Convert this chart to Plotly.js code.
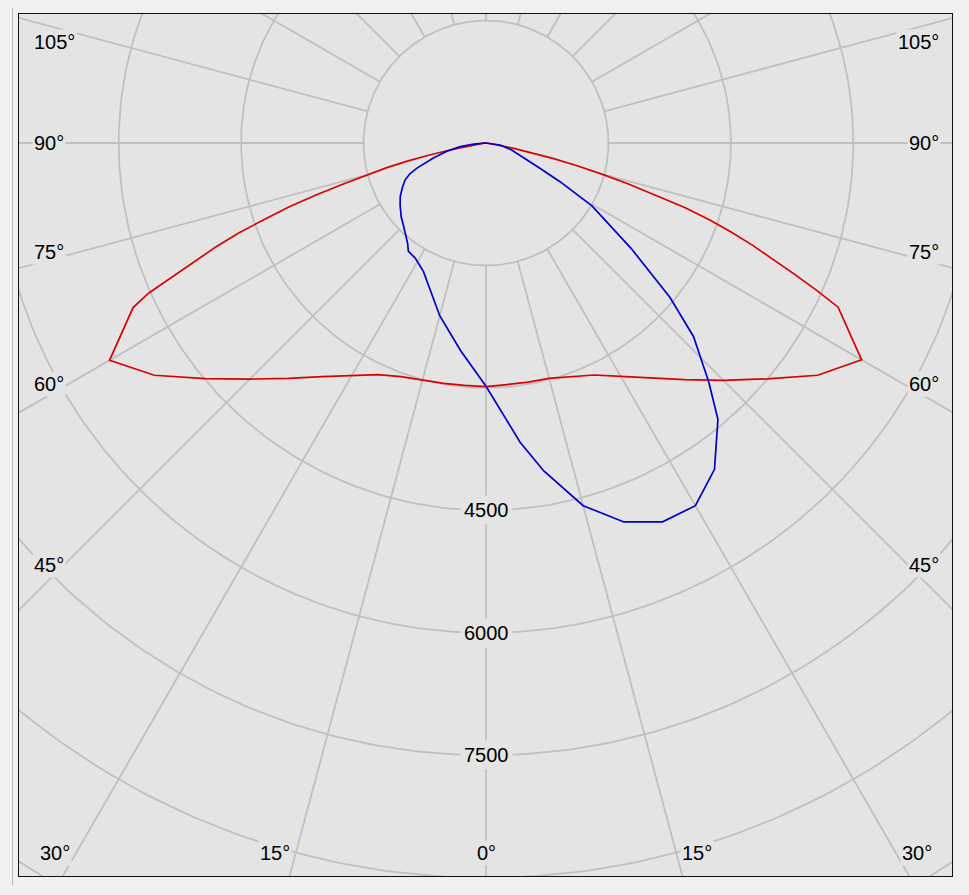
<!DOCTYPE html>
<html>
<head>
<meta charset="utf-8">
<script src="https://cdn.plot.ly/plotly-3.0.1.min.js"></script>
<style>
html,body{margin:0;padding:0;background:#f0f0f0;overflow:hidden;}
#chart{width:969px;height:895px;}
</style>
</head>
<body>
<div id="chart"></div>
<script>
// ---- DATA (luminous intensity, cd, vs gamma angle in degrees) ----
const redAngles = [-90,-85,-80,-79,-78,-77,-76,-75,-74,-73,-72,-71,-70,-69,-68,-67,-66,-65,-60,-55,-50,-45,-40,-35,-30,-25,-20,-15,-10,-5,0,
                   5,10,15,20,25,30,35,40,45,50,55,60,65,66,67,68,69,70,71,72,73,74,75,76,77,78,79,80,85,90];
const redValues = [0,30,150,448,720,1000,1260,1513,1810,2170,2540,2860,3230,3535,3810,4170,4525,4770,5325,4960,4490,4090,3765,3495,3290,3130,3045,3005,2990,2980,2985,
                   2970,2975,2986,3044,3136,3300,3513,3785,4113,4495,4960,5313,4759,4430,4089,3790,3500,3200,2900,2560,2150,1800,1460,1140,840,560,360,150,30,0];
const blueAngles = [-90,-85,-82,-78,-74,-70,-68,-65.5,-62,-58,-54,-49,-45,-42,-38,-35.6,-31.6,-26,-20,-15,-7,0,
                    6.5,10,15,20,25,30,35,40,43,47,50,54,59.3,62.4,64.9,70.5,75,82,90];
const blueValues = [0,150,320,490,670,900,1005,1088,1160,1239,1300,1377,1430,1482,1560,1633,1655,1750,1960,2190,2560,2980,
                    3690,4080,4600,4940,5120,5130,4880,4420,4000,3475,2940,2200,1510,1023,729,441,320,173,0];
const ringValues = [1500,3000,4500,6000,7500,9000,10500,12000];
const ringLabelValues = [4500,6000,7500];
const spokeAngles = [-180,-165,-150,-135,-120,-105,-90,-75,-60,-45,-30,-15,0,15,30,45,60,75,90,105,120,135,150,165,180];
const sideAngleLabels = [105,90,75,60,45];
const bottomAngleLabels = [-30,-15,0,15,30];

// ---- geometry of the drawing ----
const W = 969, H = 895;
const M = {l:19, r:17, t:14, b:19};
const plotW = W - M.l - M.r, plotH = H - M.t - M.b;
const cx = 486 - M.l, cy = 143 - M.t;     // centre inside plot area (px)
const s = 12.25;                            // cd per pixel
const xr = [-cx*s, (plotW-cx)*s];
const yr = [-(plotH-cy)*s, cy*s];
const rad = d => d*Math.PI/180;
const px = (g,I) => I*Math.sin(rad(g));
const py = (g,I) => -I*Math.cos(rad(g));

// grid rings
const rx=[], ry=[];
ringValues.forEach(v=>{
  for(let a=0;a<=360;a+=1){ rx.push(px(a,v)); ry.push(py(a,v)); }
  rx.push(null); ry.push(null);
});
// spokes (outside the first ring)
const sx=[], sy=[];
spokeAngles.forEach(a=>{
  sx.push(px(a,ringValues[0]), px(a,30000), null);
  sy.push(py(a,ringValues[0]), py(a,30000), null);
});

const gridStyle = {color:'#c0c0c0', width:1.8};
const traces = [
  {x:rx, y:ry, mode:'lines', line:gridStyle, hoverinfo:'skip'},
  {x:sx, y:sy, mode:'lines', line:gridStyle, hoverinfo:'skip'},
  {x:redAngles.map((g,i)=>px(g,redValues[i])), y:redAngles.map((g,i)=>py(g,redValues[i])),
   mode:'lines', line:{color:'#dc0000', width:1.7}, name:'C0-C180'},
  {x:blueAngles.map((g,i)=>px(g,blueValues[i])), y:blueAngles.map((g,i)=>py(g,blueValues[i])),
   mode:'lines', line:{color:'#0000cc', width:1.7}, name:'C90-C270'}
];

const font = {family:'"Liberation Sans", Arial, sans-serif', size:20, color:'#000'};
const bg = '#e4e4e4';
const ann = [];
ringLabelValues.forEach(v=>{
  ann.push({x:0, y:-v, text:String(v), showarrow:false, font:font, bgcolor:bg, borderpad:3,
            xanchor:'center', yanchor:'middle'});
});
// side angle labels
const sideOff = 436*s;
sideAngleLabels.forEach(a=>{
  const yv = -sideOff/Math.tan(rad(a));
  const ysh = a>90 ? -16 : (a===90 ? 0 : 5 + 9*(90-a)/45);
  ann.push({x:xr[0]+13*s, y:yv, yshift:ysh, text:a+'°', showarrow:false, font:font, bgcolor:bg,
            borderpad:1, xanchor:'left', yanchor:'middle'});
  ann.push({x:xr[1]-11*s, y:yv, yshift:ysh, text:a+'°', showarrow:false, font:font, bgcolor:bg,
            borderpad:1, xanchor:'right', yanchor:'middle'});
});
// bottom angle labels
const yb = -(853-143)*s;
bottomAngleLabels.forEach(a=>{
  const xv = -yb*Math.tan(rad(a)) + Math.sign(a)*21*s;
  ann.push({x:xv, y:yb, text:Math.abs(a)+'°', showarrow:false, font:font, bgcolor:bg,
            borderpad:1, xanchor:'center', yanchor:'middle'});
});

const layout = {
  width:W, height:H, margin:M,
  paper_bgcolor:'#f0f0f0', plot_bgcolor:bg,
  showlegend:false,
  xaxis:{range:xr, showgrid:false, zeroline:false, showticklabels:false, ticks:'',
         showline:true, mirror:true, linecolor:'#111', linewidth:1.3, fixedrange:true},
  yaxis:{range:yr, showgrid:false, zeroline:false, showticklabels:false, ticks:'',
         showline:true, mirror:true, linecolor:'#111', linewidth:1.3, fixedrange:true},
  annotations:ann,
  shapes:[{type:'line', xref:'paper', yref:'paper', x0:-6.5/plotW, x1:-6.5/plotW,
           y0:1+6/plotH, y1:-9/plotH, line:{color:'#b8b8b8', width:1}}]
};
Plotly.newPlot('chart', traces, layout, {staticPlot:true, displayModeBar:false});
</script>
</body>
</html>
